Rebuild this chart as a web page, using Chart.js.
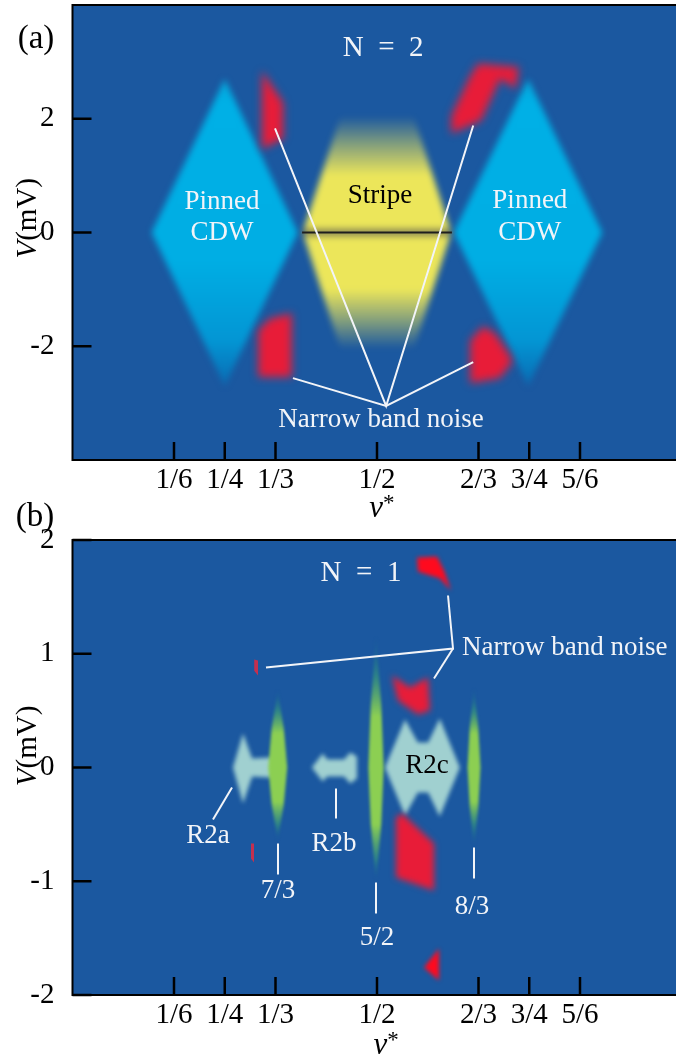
<!DOCTYPE html>
<html>
<head>
<meta charset="utf-8">
<script src="https://cdn.jsdelivr.net/npm/chart.js@4.4.0/dist/chart.umd.min.js"></script>
<style>
  html, body { margin: 0; padding: 0; background: #fff; overflow: hidden; width: 676px; height: 1061px; }
  canvas { position: absolute; left: 0; }
  #panelA { top: 0; }
  #panelB { top: 490px; }
</style>
</head>
<body>
<canvas id="panelA" width="690" height="530"></canvas>
<canvas id="panelB" width="690" height="571"></canvas>
<script>
// ---- values: x = nu*, y = V (mV) ----
const xTicks = [1/6, 1/4, 1/3, 1/2, 2/3, 3/4, 5/6];
const xTickLabels = ['1/6', '1/4', '1/3', '1/2', '2/3', '3/4', '5/6'];
const yTicksA = [-2, 0, 2];
const yTickLabelsA = ['-2', '0', '2'];
const yTicksB = [-2, -1, 0, 1, 2];
const yTickLabelsB = ['-2', '-1', '0', '1', '2'];

// panel (a), N = 2
const cdwLeft = [[0.25, 2.7], [0.37, 0], [0.25, -2.7], [0.13, 0]];
const cdwRight = [[0.748, 2.7], [0.87, 0], [0.748, -2.7], [0.626, 0]];
const stripe = [[0.44, 2.05], [0.56, 2.05], [0.622, 0], [0.56, -2.05], [0.44, -2.05], [0.378, 0]];
const stripeLine = [[0.377, 0], [0.623, 0]];
const nbnA1 = [[0.311, 2.84], [0.346, 2.28], [0.346, 1.65], [0.311, 1.47]];
const nbnA2 = [[0.305, -1.72], [0.324, -1.51], [0.360, -1.42], [0.360, -2.54], [0.305, -2.54]];
const nbnA3 = [[0.622, 1.74], [0.622, 2.05], [0.653, 2.75], [0.666, 2.97], [0.733, 2.91], [0.728, 2.53], [0.702, 2.70], [0.671, 1.97]];
const nbnA4 = [[0.653, -1.90], [0.674, -1.65], [0.694, -1.77], [0.718, -2.16], [0.722, -2.28], [0.702, -2.56], [0.653, -2.65]];
const leaderA1 = [[0.3325, 1.83], [0.515, -3.05], [0.658, 1.88]];
const leaderA2 = [[0.362, -2.56], [0.515, -3.05], [0.658, -2.28]];

// panel (b), N = 1
const r2a = [[0.2635, 0], [0.28, 0.30], [0.295, 0.08], [0.324, 0.088], [0.337, 0.06], [0.337, -0.06], [0.324, -0.088], [0.295, -0.08], [0.28, -0.316]];
const r2b = [[0.393, 0], [0.411, 0.123], [0.418, 0.07], [0.446, 0.07], [0.456, 0.132], [0.467, 0.097], [0.467, -0.097], [0.456, -0.141], [0.446, -0.079], [0.418, -0.079], [0.411, -0.123]];
const r2c = [[0.513, 0], [0.546, 0.422], [0.567, 0.22], [0.584, 0.22], [0.603, 0.431], [0.636, 0], [0.603, -0.431], [0.584, -0.22], [0.567, -0.22], [0.546, -0.422]];
const lens73 = [[0.337, 0.68], [0.347, 0.34], [0.3526, 0], [0.347, -0.32], [0.337, -0.64], [0.327, -0.32], [0.3214, 0], [0.327, 0.34]];
const lens52 = [[0.4984, 1.15], [0.507, 0.55], [0.511, 0], [0.507, -0.5], [0.4984, -1.0], [0.4898, -0.5], [0.4858, 0], [0.4898, 0.55]];
const lens83 = [[0.6593, 0.70], [0.6663, 0.35], [0.670, 0], [0.6663, -0.345], [0.6593, -0.69], [0.6523, -0.345], [0.6486, 0], [0.6523, 0.35]];
const nbnB1 = [[0.5657, 1.846], [0.5985, 1.855], [0.61, 1.732], [0.6215, 1.556], [0.6034, 1.662], [0.5673, 1.723]];
const nbnB2 = [[0.2984, 0.949], [0.3046, 0.94], [0.3046, 0.809], [0.2984, 0.85]];
const nbnB3 = [[0.2931, -0.668], [0.298, -0.668], [0.298, -0.835], [0.2931, -0.80]];
const nbnB4 = [[0.5246, 0.809], [0.5542, 0.703], [0.5837, 0.791], [0.587, 0.501], [0.5673, 0.466], [0.5345, 0.589]];
const nbnB5 = [[0.5312, -0.44], [0.5411, -0.404], [0.5936, -0.668], [0.5936, -1.081], [0.5312, -0.967]];
const nbnB6 = [[0.5772, -1.758], [0.6018, -1.591], [0.6018, -1.873]];
const leaderB1 = [[0.3177, 0.879], [0.6248, 1.046], [0.6166, 1.512]];
const leaderB2 = [[0.6248, 1.046], [0.5936, 0.782]];
const ptrR2a = [[0.2619, -0.176], [0.2307, -0.457]];
const ptr73 = [[0.3374, -0.668], [0.3374, -0.94]];
const ptrR2b = [[0.4327, -0.185], [0.4327, -0.448]];
const ptr52 = [[0.4984, -1.011], [0.4984, -1.284]];
const ptr83 = [[0.6593, -0.703], [0.6593, -0.976]];

const SERIF = '"Liberation Serif", "Times New Roman", serif';
const BG = '#1b58a0';
const WHITE = '#f2f4f8';
const RED = '#e81c38';
const YEL = 'rgba(236,230,90,1)';

// blur per dataset: must run before the Filler plugin, so re-register Filler after it
const softEdges = {
  id: 'softEdges',
  beforeDatasetDraw(chart, args) {
    const ds = chart.data.datasets[args.index];
    chart.ctx.save();
    if (ds.blur) chart.ctx.filter = 'blur(' + ds.blur + 'px)';
  },
  afterDatasetDraw(chart) { chart.ctx.restore(); }
};
const filler = Chart.registry.getPlugin('filler');
Chart.unregister(filler);
Chart.register(softEdges, filler);

function pts(a) { return a.map(p => ({x: p[0], y: p[1]})); }

function vGrad(stops, fallback) {
  return function(c) {
    const chart = c.chart;
    if (!chart.chartArea) return fallback;
    const y = chart.scales.y;
    const y0 = stops[0][0], y1 = stops[stops.length - 1][0];
    const g = chart.ctx.createLinearGradient(0, y.getPixelForValue(y0), 0, y.getPixelForValue(y1));
    stops.forEach(s => g.addColorStop((y0 - s[0]) / (y0 - y1), s[1]));
    return g;
  };
}

function poly(a, color, blur) {
  return { data: pts(a), fill: 'shape', backgroundColor: color, borderColor: 'rgba(0,0,0,0)',
           borderWidth: 0, pointRadius: 0, blur: blur };
}
function seg(a, color, width) {
  return { data: pts(a), fill: false, borderColor: color, borderWidth: width, pointRadius: 0 };
}

const cdwColor = [[2.7, '#07a4da'], [2.3, '#00b0e6'], [-0.5, '#00aee4'], [-1.9, '#0396d4'], [-2.7, '#0a6ab2']];
const stripeColor = [[2.05, 'rgba(236,230,90,0)'], [1.55, 'rgba(236,230,90,0.5)'], [1.0, YEL], [0.1, YEL],
  [0, 'rgb(110,110,80)'], [-0.1, YEL], [-1.0, YEL], [-1.55, 'rgba(236,230,90,0.5)'], [-2.05, 'rgba(236,230,90,0)']];
const TIP = 'rgba(20,100,150,0.2)', TEAL = 'rgba(50,140,130,0.85)', GREEN = '#8ccf52';
const lens73Color = [[0.68, TIP], [0.5, TEAL], [0.3, GREEN], [-0.3, GREEN], [-0.5, TEAL], [-0.64, TIP]];
const lens52Color = [[1.15, TIP], [0.8, TEAL], [0.45, GREEN], [-0.5, GREEN], [-0.8, TEAL], [-1.0, TIP]];
const lens83Color = [[0.70, TIP], [0.5, TEAL], [0.3, GREEN], [-0.3, GREEN], [-0.5, TEAL], [-0.69, TIP]];

function drawRich(ctx, parts, cx, cy, rot) {
  ctx.save();
  ctx.translate(cx, cy);
  if (rot) ctx.rotate(rot);
  ctx.textBaseline = 'middle';
  ctx.textAlign = 'left';
  let total = 0;
  parts.forEach(p => { ctx.font = p.font; p.w = ctx.measureText(p.t).width; total += p.w; });
  let x = -total / 2;
  parts.forEach(p => { ctx.font = p.font; ctx.fillStyle = '#000'; ctx.fillText(p.t, x, p.dy || 0); x += p.w; });
  ctx.restore();
}

function decor(texts, yTitle, xTitle) {
  return {
    id: 'decor',
    beforeDatasetsDraw(chart) {
      const {ctx, chartArea: a} = chart;
      ctx.save();
      ctx.fillStyle = BG;
      ctx.fillRect(a.left, a.top, a.right - a.left, a.bottom - a.top);
      ctx.restore();
    },
    afterDatasetsDraw(chart) {
      const {ctx, chartArea: a, scales} = chart;
      ctx.save();
      ctx.strokeStyle = '#000';
      ctx.lineWidth = 2.5;
      ctx.beginPath();
      scales.x.ticks.forEach(t => {
        const px = scales.x.getPixelForValue(t.value);
        ctx.moveTo(px, a.bottom); ctx.lineTo(px, a.bottom - 18);
      });
      scales.y.ticks.forEach(t => {
        const py = scales.y.getPixelForValue(t.value);
        ctx.moveTo(a.left, py); ctx.lineTo(a.left + 19, py);
      });
      ctx.stroke();
      ctx.lineWidth = 2;
      ctx.strokeRect(a.left, a.top, a.right - a.left, a.bottom - a.top);
      ctx.textBaseline = 'middle';
      texts.forEach(t => {
        ctx.font = t.size + 'px ' + SERIF;
        ctx.fillStyle = t.color;
        ctx.textAlign = t.align || 'center';
        ctx.fillText(t.t, scales.x.getPixelForValue(t.x), scales.y.getPixelForValue(t.y));
      });
      drawRich(ctx, [{t: 'V', font: 'italic 29px ' + SERIF}, {t: '(mV)', font: '29px ' + SERIF}],
        scales.x.getPixelForValue(yTitle[0]), scales.y.getPixelForValue(yTitle[1]), -Math.PI / 2);
      drawRich(ctx, [{t: '\u03bd', font: 'italic 31px ' + SERIF}, {t: '*', font: '23px ' + SERIF, dy: -5}],
        scales.x.getPixelForValue(xTitle[0]), scales.y.getPixelForValue(xTitle[1]), 0);
      ctx.restore();
    }
  };
}

function makeChart(id, datasets, yMin, yMax, yTicks, yLabels, padTop, xHeight, plugin) {
  datasets.forEach((d, i) => { d.order = -i; });
  return new Chart(document.getElementById(id), {
    type: 'line',
    data: { datasets: datasets },
    options: {
      responsive: false,
      animation: false,
      events: [],
      layout: { padding: { top: padTop, right: 8.5, left: 0, bottom: 0 } },
      plugins: { legend: { display: false }, tooltip: { enabled: false } },
      elements: { line: { tension: 0 } },
      scales: {
        x: {
          type: 'linear', min: 0, max: 1,
          grid: { display: false }, border: { display: false },
          afterBuildTicks: s => { s.ticks = xTicks.map(v => ({value: v})); },
          afterFit: s => { s.height = xHeight; s.paddingLeft = 0; s.paddingRight = 0; },
          ticks: { autoSkip: false, maxRotation: 0, padding: -5, color: '#000',
                   font: { family: SERIF, size: 29 }, callback: (v, i) => xTickLabels[i] }
        },
        y: {
          type: 'linear', min: yMin, max: yMax,
          grid: { display: false }, border: { display: false },
          afterBuildTicks: s => { s.ticks = yTicks.map(v => ({value: v})); },
          afterFit: s => { s.width = 72.5; s.paddingTop = 0; s.paddingBottom = 0; },
          ticks: { autoSkip: false, padding: 10, color: '#000',
                   font: { family: SERIF, size: 29 }, callback: (v, i) => yLabels[i] }
        }
      }
    },
    plugins: [plugin]
  });
}

// ---------- panel (a) ----------
makeChart('panelA', [
  poly(cdwLeft, vGrad(cdwColor, '#00b0e6'), 3),
  poly(cdwRight, vGrad(cdwColor, '#00b0e6'), 3),
  poly(stripe, vGrad(stripeColor, YEL), 3),
  seg(stripeLine, '#1e1e1e', 2),
  poly(nbnA1, RED, 4),
  poly(nbnA2, RED, 4),
  poly(nbnA3, RED, 4),
  poly(nbnA4, RED, 4),
  seg(leaderA1, WHITE, 2),
  seg(leaderA2, WHITE, 2)
], -4, 4, yTicksA, yTickLabelsA, 5, 70, decor([
  {t: '(a)', x: -0.06, y: 3.40, size: 33, color: '#000'},
  {t: 'N\u2002=\u20022', x: 0.51, y: 3.23, size: 29, color: WHITE},
  {t: 'Pinned', x: 0.2455, y: 0.54, size: 27, color: WHITE},
  {t: 'CDW', x: 0.2455, y: 0, size: 27, color: WHITE},
  {t: 'Pinned', x: 0.751, y: 0.56, size: 27, color: WHITE},
  {t: 'CDW', x: 0.751, y: 0, size: 27, color: WHITE},
  {t: 'Stripe', x: 0.505, y: 0.65, size: 27, color: '#000'},
  {t: 'Narrow band noise', x: 0.5066, y: -3.30, size: 27, color: WHITE}
], [-0.073, 0.25], [0.508, -4.86]));

// ---------- panel (b) ----------
makeChart('panelB', [
  poly(r2a, '#a0d0d0', 2),
  poly(r2b, '#a0d0d0', 2),
  poly(r2c, '#a0d0d0', 2),
  poly(lens73, vGrad(lens73Color, GREEN), 1.5),
  poly(lens52, vGrad(lens52Color, GREEN), 1.5),
  poly(lens83, vGrad(lens83Color, GREEN), 1.5),
  poly(nbnB1, '#ff0a1e', 2),
  poly(nbnB2, '#c4304f', 0),
  poly(nbnB3, '#c4304f', 0),
  poly(nbnB4, RED, 3),
  poly(nbnB5, RED, 3),
  poly(nbnB6, '#ff0a1e', 2),
  seg(leaderB1, WHITE, 2),
  seg(leaderB2, WHITE, 2),
  seg(ptrR2a, WHITE, 2),
  seg(ptr73, WHITE, 2),
  seg(ptrR2b, WHITE, 2),
  seg(ptr52, WHITE, 2),
  seg(ptr83, WHITE, 2)
], -2, 2, yTicksB, yTickLabelsB, 50, 66, decor([
  {t: '(b)', x: -0.0616, y: 2.198, size: 33, color: '#000'},
  {t: 'N\u2002=\u20021', x: 0.4737, y: 1.705, size: 29, color: WHITE},
  {t: 'Narrow band noise', x: 0.6396, y: 1.055, size: 27, color: WHITE, align: 'left'},
  {t: 'R2a', x: 0.2225, y: -0.598, size: 27, color: WHITE},
  {t: '7/3', x: 0.3374, y: -1.081, size: 27, color: WHITE},
  {t: 'R2b', x: 0.4294, y: -0.668, size: 27, color: WHITE},
  {t: '5/2', x: 0.5, y: -1.494, size: 27, color: WHITE},
  {t: '8/3', x: 0.656, y: -1.222, size: 27, color: WHITE},
  {t: 'R2c', x: 0.582, y: 0.018, size: 27, color: '#000'}
], [-0.073, 0.19], [0.515, -2.444]));
</script>
</body>
</html>
